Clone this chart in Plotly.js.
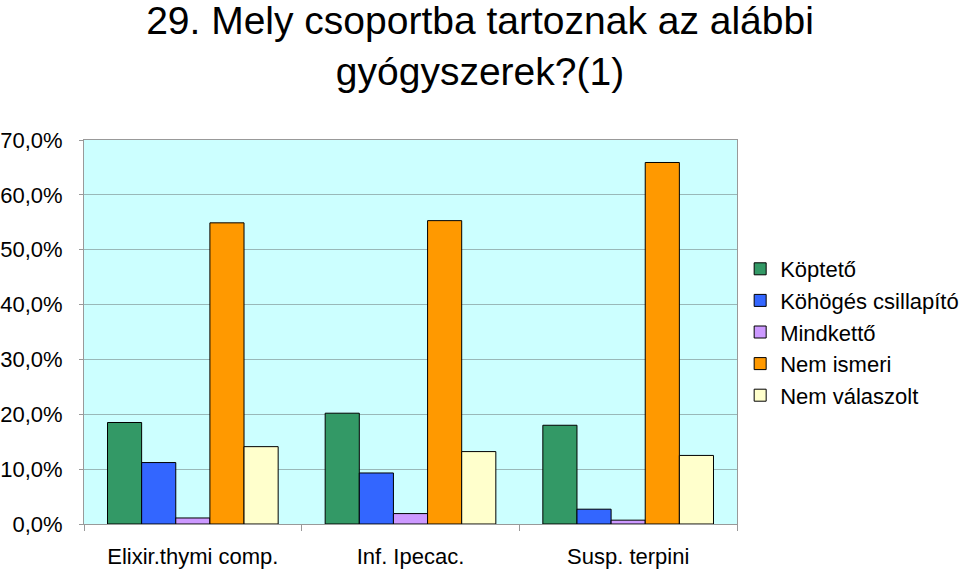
<!DOCTYPE html>
<html><head><meta charset="utf-8">
<script src="https://cdn.plot.ly/plotly-3.0.1.min.js"></script>
<style>html,body{margin:0;padding:0;background:#fff}#chart{width:960px;height:573px}</style>
</head><body><div id="chart"></div>
<script>
const categories = ["Elixir.thymi comp.", "Inf. Ipecac.", "Susp. terpini"];
const seriesNames = ["Köptető", "Köhögés csillapító", "Mindkettő", "Nem ismeri", "Nem válaszolt"];
const koptetoValues = [18.5, 20.2, 18.0];
const kohogesValues = [11.2, 9.3, 2.7];
const mindkettoValues = [1.1, 1.9, 0.7];
const nemIsmeriValues = [54.9, 55.3, 65.9];
const nemValaszoltValues = [14.1, 13.2, 12.5];
const seriesColors = ["#339966", "#3366FF", "#CC99FF", "#FF9900", "#FFFFCC"];
const allValues = [koptetoValues, kohogesValues, mindkettoValues, nemIsmeriValues, nemValaszoltValues];
const yTicks = [0, 10, 20, 30, 40, 50, 60, 70];
const yTickLabels = ["0,0%", "10,0%", "20,0%", "30,0%", "40,0%", "50,0%", "60,0%", "70,0%"];

const font = "Liberation Sans, Arial, sans-serif";
const traces = allValues.map((vals, i) => ({
  type: "bar",
  name: seriesNames[i],
  x: categories,
  y: vals,
  legendgroup: "g" + i,
  marker: {color: seriesColors[i], line: {color: "#000", width: 1}},
  hoverinfo: "none"
}));

const layout = {
  width: 960, height: 573,
  margin: {l: 84, r: 223, t: 140, b: 49, autoexpand: false},
  paper_bgcolor: "#fff",
  plot_bgcolor: "#CCFFFF",
  barmode: "group",
  bargap: 0.216,
  bargroupgap: 0,
  font: {family: font, color: "#000"},
  title: {
    text: "29. Mely csoportba tartoznak az alábbi<br>gyógyszerek?(1)",
    font: {family: font, size: 39, color: "#000"},
    x: 0.5, xref: "container", xanchor: "center",
    y: 0.941, yref: "container", yanchor: "middle",
    automargin: false
  },
  xaxis: {
    type: "category",
    tickson: "boundaries",
    ticks: "outside", ticklen: 6, tickcolor: "#999",
    showline: true, linecolor: "#999", linewidth: 1, mirror: true,
    showgrid: false,
    tickfont: {family: font, size: 22, color: "#000"},
    ticklabelstandoff: 13
  },
  yaxis: {
    range: [0, 70],
    tickvals: yTicks,
    ticktext: yTickLabels,
    ticks: "outside", ticklen: 4, tickcolor: "#999",
    showline: true, linecolor: "#999", linewidth: 1, mirror: true,
    gridcolor: "#99b8b8", gridwidth: 1,
    zeroline: false,
    tickfont: {family: font, size: 22, color: "#000"},
    ticklabelstandoff: 12
  },
  legend: {
    xref: "container", x: 0.771, xanchor: "left",
    y: 0.5, yanchor: "middle",
    font: {family: font, size: 22, color: "#000"},
    tracegroupgap: 0,
    itemclick: false
  },
  showlegend: true
};

Plotly.newPlot("chart", traces, layout, {displayModeBar: false, staticPlot: true});
</script>
</body></html>
